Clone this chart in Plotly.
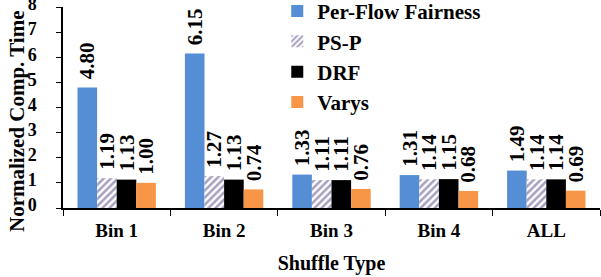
import plotly.graph_objects as go

categories = ["Bin 1", "Bin 2", "Bin 3", "Bin 4", "ALL"]
per_flow = [4.80, 6.15, 1.33, 1.31, 1.49]
ps_p = [1.19, 1.27, 1.11, 1.14, 1.14]
drf = [1.13, 1.13, 1.11, 1.15, 1.14]
varys = [1.00, 0.74, 0.76, 0.68, 0.69]
y_ticks = [0, 1, 2, 3, 4, 5, 6, 7, 8]

FONT = "Liberation Serif, Times New Roman, serif"
lab_font = dict(family=FONT, size=21, color="black", weight="bold")

def bar(name, vals, **kw):
    return go.Bar(
        name=name, x=categories, y=vals,
        text=["\u200b\u00a0" + f"{v:.2f}" for v in vals], textposition="outside",
        textangle=-90, textfont=lab_font, constraintext="none",
        cliponaxis=False, **kw)

fig = go.Figure()
fig.add_trace(bar("Per-Flow Fairness", per_flow, marker=dict(color="#558ED5", line=dict(width=0))))
fig.add_trace(bar("PS-P", ps_p, marker=dict(color="white", line=dict(width=0),
                  pattern=dict(shape="/", fgcolor="#4F3F80", bgcolor="white", size=5, solidity=0.5))))
fig.add_trace(bar("DRF", drf, marker=dict(color="black", line=dict(width=0))))
fig.add_trace(bar("Varys", varys, marker=dict(color="#F79646", line=dict(width=0))))

fig.update_layout(
    width=601, height=277,
    margin=dict(l=63, r=1, t=7, b=69, autoexpand=False),
    paper_bgcolor="white", plot_bgcolor="white",
    barmode="group", bargap=0.27, bargroupgap=0,
    font=dict(family=FONT, size=19, color="black", weight="bold"),
    showlegend=True,
    legend=dict(x=0.399, y=1.08, xanchor="left", yanchor="top",
                bgcolor="rgba(0,0,0,0)", font=dict(family=FONT, size=21, weight="bold"),
                tracegroupgap=0, itemsizing="constant"),
    xaxis=dict(showline=True, linecolor="black", linewidth=1.5,
               ticks="outside", tickson="boundaries", ticklen=6, tickcolor="black",
               ticklabelstandoff=4,
               tickfont=dict(family=FONT, size=19, weight="bold"),
               title=dict(text="Shuffle Type", standoff=16,
                          font=dict(family=FONT, size=20, weight="bold"))),
    yaxis=dict(range=[0, 8], tickvals=y_ticks, showline=True, linecolor="black", linewidth=1.5,
               ticks="outside", ticklen=5, tickcolor="black", showgrid=False, zeroline=False,
               ticklabelstandoff=16, ticklabeloverflow="allow", ticklabelshift=-3,
               tickfont=dict(family=FONT, size=18, weight="bold")),
    annotations=[dict(text="Normalized Comp. Time", textangle=-90, showarrow=False,
                      xref="paper", yref="paper", x=-0.0857, y=0.433,
                      xanchor="center", yanchor="middle",
                      font=dict(family=FONT, size=21, weight="bold"))],
)
fig.write_html("out.html", config={"displayModeBar": False},
               post_script="document.body.style.margin='0';document.body.style.overflow='hidden';")
